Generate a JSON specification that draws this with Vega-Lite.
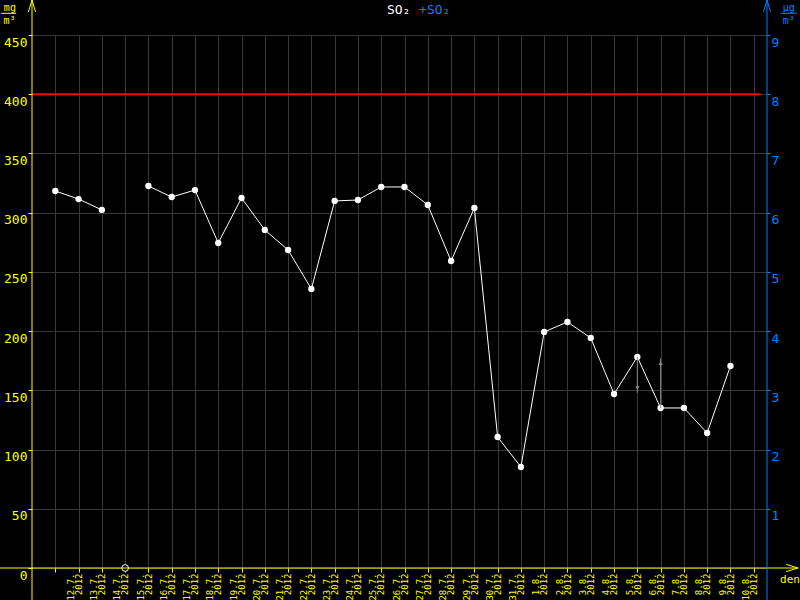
{
  "$schema": "https://vega.github.io/schema/vega-lite/v6.json",
  "width": 735,
  "height": 533,
  "autosize": {"type": "none"},
  "padding": {"left": 32, "top": 35, "right": 33, "bottom": 32},
  "background": "#000000",
  "config": {
    "view": {"stroke": null},
    "axis": {"labelFont": "DejaVu Sans Mono", "titleFont": "DejaVu Sans Mono"},
    "axisX": {
      "title": null, "domain": false, "tickCount": 31,
      "grid": true, "gridColor": "#383838", "gridWidth": 1, "gridOpacity": 1,
      "ticks": true, "tickColor": "#ffff00", "tickSize": 4,
      "labelAngle": -90, "labelAlign": "right", "labelBaseline": "middle",
      "labelOffset": 15, "labelPadding": 1,
      "labelColor": "#ffff00", "labelFontSize": 9, "labelLineHeight": 8,
      "labelOverlap": false, "labelFlush": false, "labelBound": false
    }
  },
  "datasets": {
    "so2": [
      {"date": "12.7.", "day": 12, "v": 318.3, "seg": "a"},
      {"date": "13.7.", "day": 13, "v": 311.5, "seg": "a"},
      {"date": "14.7.", "day": 14, "v": 302.3, "seg": "a"},
      {"date": "16.7.", "day": 16, "v": 322.5, "seg": "b"},
      {"date": "17.7.", "day": 17, "v": 313.2, "seg": "b"},
      {"date": "18.7.", "day": 18, "v": 319.1, "seg": "b"},
      {"date": "19.7.", "day": 19, "v": 274.4, "seg": "b"},
      {"date": "20.7.", "day": 20, "v": 312.4, "seg": "b"},
      {"date": "21.7.", "day": 21, "v": 285.4, "seg": "b"},
      {"date": "22.7.", "day": 22, "v": 268.5, "seg": "b"},
      {"date": "23.7.", "day": 23, "v": 235.6, "seg": "b"},
      {"date": "24.7.", "day": 24, "v": 309.9, "seg": "b"},
      {"date": "25.7.", "day": 25, "v": 310.7, "seg": "b"},
      {"date": "26.7.", "day": 26, "v": 321.7, "seg": "b"},
      {"date": "27.7.", "day": 27, "v": 321.7, "seg": "b"},
      {"date": "28.7.", "day": 28, "v": 306.5, "seg": "b"},
      {"date": "29.7.", "day": 29, "v": 259.2, "seg": "b"},
      {"date": "30.7.", "day": 30, "v": 304.0, "seg": "b"},
      {"date": "31.7.", "day": 31, "v": 110.6, "seg": "b"},
      {"date": "1.8.", "day": 32, "v": 85.3, "seg": "b"},
      {"date": "2.8.", "day": 33, "v": 199.3, "seg": "b"},
      {"date": "3.8.", "day": 34, "v": 207.7, "seg": "b"},
      {"date": "4.8.", "day": 35, "v": 194.2, "seg": "b"},
      {"date": "5.8.", "day": 36, "v": 146.9, "seg": "b"},
      {"date": "6.8.", "day": 37, "v": 178.2, "seg": "b"},
      {"date": "7.8.", "day": 38, "v": 135.1, "seg": "b"},
      {"date": "8.8.", "day": 39, "v": 135.1, "seg": "b"},
      {"date": "9.8.", "day": 40, "v": 114.0, "seg": "b"},
      {"date": "10.8.", "day": 41, "v": 170.6, "seg": "b"}
    ],
    "trend": [
      {"day": 37, "from": 178.2, "to": 148.0, "head": 152.0, "shape": "triangle-down"},
      {"day": 38, "from": 135.1, "to": 177.0, "head": 173.0, "shape": "triangle-up"}
    ]
  },
  "resolve": {"scale": {"y": "independent"}},
  "layer": [
    {
      "layer": [
        {
          "data": {"name": "so2"},
          "mark": {"type": "line", "color": "#ffffff", "strokeWidth": 1},
          "encoding": {
            "x": {
              "field": "day", "type": "quantitative",
              "scale": {"domain": [11, 42.57], "nice": false, "zero": false},
              "axis": {
                "values": [12,13,14,15,16,17,18,19,20,21,22,23,24,25,26,27,28,29,30,31,32,33,34,35,36,37,38,39,40,41,42],
                "labelExpr": "(datum.value > 41.5 || datum.value < 11.5) ? '' : [(datum.value <= 31 ? datum.value + '.7.' : (datum.value - 31) + '.8.'), '2012']"
              }
            },
            "y": {
              "field": "v", "type": "quantitative",
              "scale": {"domain": [0, 450], "nice": false},
              "axis": {
                "title": null, "domain": false, "orient": "left",
                "values": [0,50,100,150,200,250,300,350,400,450],
                "grid": true, "gridColor": "#383838", "gridOpacity": 1,
                "tickColor": "#ffff00", "tickSize": 4,
                "labelColor": "#ffff00", "labelFontSize": 13, "labelPadding": 1,
                "labelBaseline": "top", "labelOffset": 1, "labelFlush": false
              }
            },
            "detail": {"field": "seg"}
          }
        },
        {
          "data": {"values": [{"limit": 400}]},
          "mark": {"type": "rule", "color": "#ff0000", "strokeWidth": 2},
          "encoding": {
            "x": {"datum": 11, "type": "quantitative"},
            "x2": {"datum": 42.3},
            "y": {"field": "limit", "type": "quantitative"}
          }
        },
        {
          "data": {"name": "so2"},
          "mark": {"type": "point", "shape": "circle", "filled": true, "color": "#ffffff", "size": 40, "opacity": 1},
          "encoding": {
            "x": {"field": "day", "type": "quantitative"},
            "y": {"field": "v", "type": "quantitative"}
          }
        },
        {
          "data": {"name": "trend"},
          "mark": {"type": "rule", "color": "#8a8a8a", "strokeWidth": 1},
          "encoding": {
            "x": {"field": "day", "type": "quantitative"},
            "y": {"field": "from", "type": "quantitative"},
            "y2": {"field": "to"}
          }
        },
        {
          "data": {"name": "trend"},
          "mark": {"type": "point", "filled": true, "color": "#8a8a8a", "size": 18, "opacity": 1},
          "encoding": {
            "x": {"field": "day", "type": "quantitative"},
            "y": {"field": "head", "type": "quantitative"},
            "shape": {"field": "shape", "type": "nominal", "scale": null, "legend": null}
          }
        },
        {
          "data": {"values": [{"day": 15, "v": 0}]},
          "mark": {"type": "point", "shape": "circle", "filled": false, "fill": "#000000", "stroke": "#ffffff", "strokeWidth": 1, "size": 45, "opacity": 1},
          "encoding": {
            "x": {"field": "day", "type": "quantitative"},
            "y": {"field": "v", "type": "quantitative"}
          }
        },
        {
          "data": {"values": [{"x": 11, "y1": -27, "y2": 479.6}]},
          "mark": {"type": "rule", "color": "#ffff00", "strokeWidth": 1},
          "encoding": {
            "x": {"field": "x", "type": "quantitative"},
            "y": {"field": "y1", "type": "quantitative"},
            "y2": {"field": "y2"}
          }
        },
        {
          "data": {"values": [{"x1": 9.6, "x2": 43.9, "y": 0}]},
          "mark": {"type": "rule", "color": "#ffff00", "strokeWidth": 1},
          "encoding": {
            "x": {"field": "x1", "type": "quantitative"},
            "x2": {"field": "x2"},
            "y": {"field": "y", "type": "quantitative"}
          }
        },
        {
          "data": {"values": [
            {"x": 11, "y": 474.5, "c": "#ffff00", "s": "M-0.6,1L0,-1L0.6,1"},
            {"x": 42.57, "y": 474.5, "c": "#0080ff", "s": "M-0.6,1L0,-1L0.6,1"},
            {"x": 43.65, "y": 0, "c": "#ffff00", "s": "M-1,-0.6L1,0L-1,0.6"}
          ]},
          "mark": {"type": "point", "filled": false, "strokeWidth": 1, "size": 144, "opacity": 1},
          "encoding": {
            "x": {"field": "x", "type": "quantitative"},
            "y": {"field": "y", "type": "quantitative"},
            "shape": {"field": "s", "type": "nominal", "scale": null, "legend": null},
            "stroke": {"field": "c", "type": "nominal", "scale": null, "legend": null}
          }
        },
        {
          "data": {"values": [
            {"x1": 9.67, "x2": 10.32, "y": 468.3, "c": "#ffff00"},
            {"x1": 43.17, "x2": 43.86, "y": 468.3, "c": "#0080ff"}
          ]},
          "mark": {"type": "rule", "strokeWidth": 1},
          "encoding": {
            "x": {"field": "x1", "type": "quantitative"},
            "x2": {"field": "x2"},
            "y": {"field": "y", "type": "quantitative"},
            "color": {"field": "c", "type": "nominal", "scale": null, "legend": null}
          }
        },
        {
          "data": {"values": [
            {"x": 26.75, "y": 471, "t": "SO₂", "c": "#ffffff", "s": 13},
            {"x": 28.3, "y": 471, "t": "+SO₂", "c": "#0080ff", "s": 13},
            {"x": 10.05, "y": 472.6, "t": "mg", "c": "#ffff00", "s": 10},
            {"x": 10.03, "y": 461.5, "t": "m³", "c": "#ffff00", "s": 10},
            {"x": 43.5, "y": 472.6, "t": "µg", "c": "#0080ff", "s": 10},
            {"x": 43.5, "y": 461.5, "t": "m³", "c": "#0080ff", "s": 10},
            {"x": 43.56, "y": -10.1, "t": "den", "c": "#ffff00", "s": 11}
          ]},
          "mark": {"type": "text", "font": "DejaVu Sans Mono", "align": "center", "baseline": "middle"},
          "encoding": {
            "x": {"field": "x", "type": "quantitative"},
            "y": {"field": "y", "type": "quantitative"},
            "text": {"field": "t"},
            "color": {"field": "c", "type": "nominal", "scale": null, "legend": null},
            "size": {"field": "s", "type": "quantitative", "scale": null, "legend": null}
          }
        }
      ]
    },
    {
      "data": {"values": [{"x": 42.57, "r1": -0.54, "r2": 9.59}]},
      "mark": {"type": "rule", "color": "#0080ff", "strokeWidth": 1},
      "encoding": {
        "x": {
          "field": "x", "type": "quantitative",
          "axis": {
            "values": [12,13,14,15,16,17,18,19,20,21,22,23,24,25,26,27,28,29,30,31,32,33,34,35,36,37,38,39,40,41,42],
            "labelExpr": "(datum.value > 41.5 || datum.value < 11.5) ? '' : [(datum.value <= 31 ? datum.value + '.7.' : (datum.value - 31) + '.8.'), '2012']"
          }
        },
        "y": {
          "field": "r1", "type": "quantitative",
          "scale": {"domain": [0, 9], "nice": false},
          "axis": {
            "title": null, "orient": "right", "domain": false, "grid": false,
            "values": [1,2,3,4,5,6,7,8,9],
            "tickColor": "#0080ff", "tickSize": 3,
            "labelColor": "#0080ff", "labelFontSize": 13, "labelPadding": 1,
            "labelBaseline": "top", "labelOffset": 1, "labelFlush": false
          }
        },
        "y2": {"field": "r2"}
      }
    }
  ]
}
